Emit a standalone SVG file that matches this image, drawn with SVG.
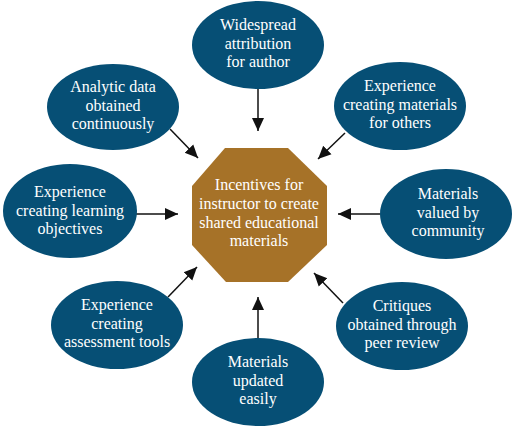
<svg xmlns="http://www.w3.org/2000/svg" width="520" height="430" viewBox="0 0 520 430">
<style>
.n{fill:#064f75}
.t{font-family:"Liberation Serif","Times New Roman",serif;font-size:16px;fill:#ffffff;text-anchor:middle}
.c{stroke:#111;stroke-width:1.5;fill:none;marker-end:url(#ah)}
</style>
<defs>
<marker id="ah" markerUnits="userSpaceOnUse" markerWidth="14" markerHeight="14" viewBox="0 0 14 14" refX="13" refY="7" orient="auto">
<path d="M0,1 L13,7 L0,13 Z" fill="#111"/>
</marker>
</defs>
<rect width="520" height="430" fill="#ffffff"/>
<g id="connectors">
<line class="c" x1="258" y1="89" x2="258" y2="131"/>
<line class="c" x1="345" y1="133" x2="318" y2="159"/>
<line class="c" x1="170" y1="129" x2="198" y2="158"/>
<line class="c" x1="136" y1="214" x2="178" y2="214"/>
<line class="c" x1="380" y1="214" x2="338" y2="214"/>
<line class="c" x1="168" y1="297" x2="197" y2="267"/>
<line class="c" x1="343" y1="303" x2="314" y2="273"/>
<line class="c" x1="258" y1="339" x2="258" y2="297"/>
</g>
<g id="center">
<polygon points="225,148 288,148 327,186 327,245 288,282 226,282 192,245 192,186" fill="#a67228"/>
<text class="t" x="259" y="190">Incentives for</text>
<text class="t" x="259" y="209">instructor to create</text>
<text class="t" x="259" y="228">shared educational</text>
<text class="t" x="259" y="246">materials</text>
</g>
<g id="n-top">
<ellipse class="n" cx="258" cy="45" rx="66" ry="44"/>
<text class="t" x="258" y="30">Widespread</text>
<text class="t" x="258" y="48.5">attribution</text>
<text class="t" x="258" y="67">for author</text>
</g>
<g id="n-topright">
<ellipse class="n" cx="400" cy="106" rx="66" ry="44"/>
<text class="t" x="400" y="91">Experience</text>
<text class="t" x="400" y="109.5">creating materials</text>
<text class="t" x="400" y="128">for others</text>
</g>
<g id="n-topleft">
<ellipse class="n" cx="113" cy="107" rx="66" ry="43"/>
<text class="t" x="113" y="92">Analytic data</text>
<text class="t" x="113" y="110.5">obtained</text>
<text class="t" x="113" y="129">continuously</text>
</g>
<g id="n-left">
<ellipse class="n" cx="70" cy="211" rx="67" ry="47"/>
<text class="t" x="70" y="197">Experience</text>
<text class="t" x="70" y="215.5">creating learning</text>
<text class="t" x="70" y="234">objectives</text>
</g>
<g id="n-right">
<ellipse class="n" cx="446" cy="214" rx="66" ry="45"/>
<text class="t" x="448" y="199">Materials</text>
<text class="t" x="448" y="217.5">valued by</text>
<text class="t" x="448" y="236">community</text>
</g>
<g id="n-bottomleft">
<ellipse class="n" cx="117" cy="325" rx="66" ry="44"/>
<text class="t" x="117" y="310">Experience</text>
<text class="t" x="117" y="328.5">creating</text>
<text class="t" x="117" y="347">assessment tools</text>
</g>
<g id="n-bottomright">
<ellipse class="n" cx="402" cy="326" rx="66" ry="44"/>
<text class="t" x="402" y="311">Critiques</text>
<text class="t" x="402" y="329.5">obtained through</text>
<text class="t" x="402" y="348">peer review</text>
</g>
<g id="n-bottom">
<ellipse class="n" cx="258" cy="382" rx="66" ry="44"/>
<text class="t" x="258" y="367">Materials</text>
<text class="t" x="258" y="385.5">updated</text>
<text class="t" x="258" y="404">easily</text>
</g>
</svg>
